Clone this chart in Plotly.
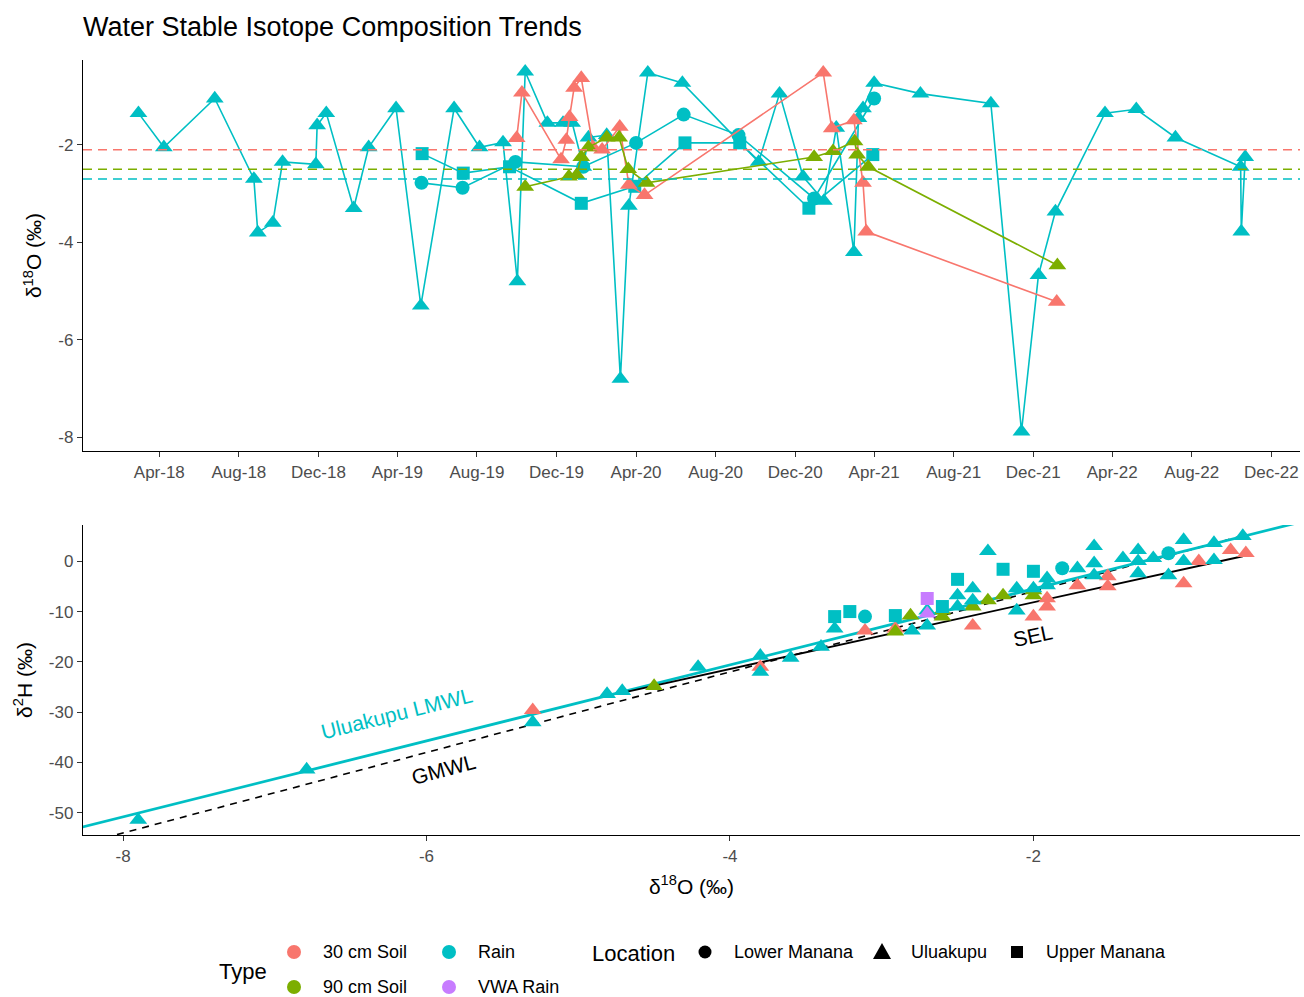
import plotly.graph_objects as go

# ---- colours (ggplot default hue palette) ----
type_names = ["30 cm Soil", "90 cm Soil", "Rain", "VWA Rain"]
type_colors = ["#F8766D", "#7CAE00", "#00BFC4", "#C77CFF"]
loc_names = ["Lower Manana", "Uluakupu", "Upper Manana"]
loc_symbols = ["circle", "triangle-up", "square"]

# ---- time series of d18O ----
rain_ulu_dates = [
    "2018-02-28", "2018-04-08", "2018-06-25", "2018-08-24", "2018-08-30", "2018-09-22",
    "2018-10-07", "2018-11-27", "2018-11-29", "2018-12-13", "2019-01-24", "2019-02-16",
    "2019-03-30", "2019-05-07", "2019-06-27", "2019-08-05", "2019-09-10", "2019-10-02",
    "2019-10-14", "2019-11-17", "2019-12-11", "2019-12-25", "2020-01-11", "2020-01-19",
    "2020-02-16", "2020-03-08", "2020-03-21", "2020-04-19", "2020-06-11", "2020-10-06",
    "2020-11-07", "2020-12-13", "2021-01-14", "2021-02-02", "2021-03-01", "2021-03-08",
    "2021-03-15", "2021-04-01", "2021-06-11", "2021-09-27", "2021-11-13", "2021-12-09",
    "2022-01-04", "2022-03-21", "2022-05-08", "2022-07-07", "2022-10-15", "2022-10-16",
    "2022-10-22",
]
rain_ulu_d18o = [
    -1.35, -2.05, -1.05, -2.70, -3.80, -3.60,
    -2.35, -2.40, -1.60, -1.35, -3.30, -2.05,
    -1.25, -5.30, -1.25, -2.05, -1.95, -4.80,
    -0.50, -1.55, -1.55, -1.55, -2.45, -1.85,
    -1.80, -6.80, -3.25, -0.52, -0.73, -2.35,
    -0.95, -2.65, -3.15, -1.65, -4.20, -1.45,
    -1.25, -0.73, -0.95, -1.15, -7.88, -4.67,
    -3.37, -1.35, -1.27, -1.85, -2.45, -3.78,
    -2.25,
]

rain_lower_dates = ["2019-05-08", "2019-07-10", "2019-09-29", "2020-01-11", "2020-04-01",
                    "2020-06-13", "2020-09-05", "2020-12-30", "2021-04-01"]
rain_lower_d18o = [-2.78, -2.88, -2.35, -2.45, -1.96, -1.38, -1.80, -3.10, -1.05]

rain_upper_dates = ["2019-05-09", "2019-07-11", "2019-09-20", "2020-01-08", "2020-03-30",
                    "2020-06-15", "2020-09-07", "2020-12-22", "2021-03-30"]
rain_upper_d18o = [-2.18, -2.58, -2.45, -3.20, -2.85, -1.96, -1.96, -3.30, -2.20]

soil30_dates = [
    "2019-10-01", "2019-10-09", "2019-12-08", "2019-12-16", "2019-12-21", "2019-12-28",
    "2020-01-08", "2020-01-26", "2020-02-09", "2020-03-07", "2020-03-21", "2020-04-14",
    "2021-01-13", "2021-01-26", "2021-03-01", "2021-03-15", "2021-03-20", "2022-01-06",
]
soil30_d18o = [
    -1.86, -0.93, -2.30, -1.90, -1.43, -0.83,
    -0.63, -2.05, -2.10, -1.63, -2.82, -3.03,
    -0.52, -1.66, -1.50, -2.78, -3.78, -5.22,
]

soil90_dates = [
    "2019-10-14", "2019-12-20", "2020-01-01", "2020-01-08", "2020-01-19", "2020-02-16",
    "2020-03-06", "2020-03-20", "2020-04-17", "2020-12-30", "2021-01-28", "2021-03-02",
    "2021-03-06", "2021-03-23", "2022-01-07",
]
soil90_d18o = [
    -2.86, -2.65, -2.62, -2.25, -2.05, -1.85,
    -1.85, -2.50, -2.78, -2.25, -2.13, -1.93,
    -2.20, -2.45, -4.47,
]

# mean d18O per type (dashed reference lines)
mean_types = ["30 cm Soil", "90 cm Soil", "Rain"]
mean_d18o = [-2.10, -2.50, -2.70]

# ---- dual-isotope plot ----
b_rain_ulu_18o = [-7.90, -6.79, -5.30, -4.81, -4.71, -4.21, -3.80, -3.80, -3.60, -3.40,
                  -3.31, -2.80, -2.70, -2.70, -2.50, -2.50, -2.40, -2.40, -2.30, -2.11,
                  -2.11, -2.00, -1.91, -1.91, -1.71, -1.60, -1.60, -1.60, -1.41, -1.31,
                  -1.31, -1.31, -1.21, -1.11, -1.01, -1.01, -0.81, -0.81, -0.62]
b_rain_ulu_2h = [-51.4, -41.4, -32.0, -26.4, -25.8, -21.0, -18.8, -22.0, -19.2, -17.0,
                 -13.4, -13.8, -12.8, -9.8, -6.8, -9.0, -5.4, -7.8, 2.0, -5.4,
                 -9.8, -5.4, -3.4, -4.8, -1.4, 3.0, -0.4, -2.8, 0.6, 2.2,
                 0.0, -2.4, 0.6, -2.8, 4.2, 0.0, 3.6, 0.2, 5.0]

b_rain_lower_18o = [-3.11, -1.81, -1.11]
b_rain_lower_2h = [-11.0, -1.4, 1.6]

b_rain_upper_18o = [-3.31, -3.21, -2.91, -2.60, -2.50, -2.20, -2.00]
b_rain_upper_2h = [-11.0, -10.0, -10.8, -9.0, -3.6, -1.6, -2.0]

b_soil30_18o = [-5.30, -3.80, -3.11, -2.91, -2.40, -2.00, -1.91, -1.91, -1.71, -1.51,
                -1.51, -1.01, -0.91, -0.70, -0.60]
b_soil30_2h = [-29.6, -21.0, -13.8, -13.4, -12.8, -11.0, -9.0, -7.4, -4.8, -3.0,
               -5.0, -4.4, 0.0, 2.2, 1.6]

b_soil90_18o = [-4.50, -2.91, -2.81, -2.60, -2.60, -2.40, -2.30, -2.20, -2.00, -2.00]
b_soil90_2h = [-24.8, -14.0, -10.8, -9.8, -11.0, -9.0, -7.8, -6.8, -6.8, -5.8]

b_vwa_upper_18o = [-2.70]
b_vwa_upper_2h = [-7.4]
b_vwa_ulu_18o = [-2.70]
b_vwa_ulu_2h = [-10.4]

# water lines: slope, intercept, x-extent
lmwl = (7.55, 9.6, [-8.4, -0.1])
gmwl = (8.0, 10.0, [-8.04, -0.60])
sel = (6.63, 5.1, [-4.69, -0.62])

# tick values and their printed labels (ASCII hyphen minus)
top_yticks = [-8, -6, -4, -2]
bot_xticks = [-8, -6, -4, -2]
bot_yticks = [-50, -40, -30, -20, -10, 0]

FONT = "Liberation Sans, Arial, sans-serif"
TICK_COL = "#4D4D4D"
W, H = 1304, 997
ML, MR, MT, MB = 83, 4, 60, 0


def px(x):
    return (x - ML) / (W - ML - MR)


def py(y):
    return (H - y) / (H - MT - MB)


def labels(vals):
    return [str(v) for v in vals]


fig = go.Figure()

# ---- top panel: time series ----
top_series = [
    (rain_ulu_dates, rain_ulu_d18o, type_colors[2], "triangle-up"),
    (rain_lower_dates, rain_lower_d18o, type_colors[2], "circle"),
    (rain_upper_dates, rain_upper_d18o, type_colors[2], "square"),
    (soil30_dates, soil30_d18o, type_colors[0], "triangle-up"),
    (soil90_dates, soil90_d18o, type_colors[1], "triangle-up"),
]
msize = {"triangle-up": 15.5, "circle": 14, "square": 13}
for xs, ys, col, sym in top_series:
    fig.add_trace(go.Scatter(
        x=xs, y=ys, mode="lines+markers", xaxis="x", yaxis="y",
        line=dict(color=col, width=1.6),
        marker=dict(color=col, symbol=sym, size=msize[sym], line=dict(width=0)),
        showlegend=False, hoverinfo="skip"))

for t, m in zip(mean_types, mean_d18o):
    fig.add_shape(type="line", xref="x domain", yref="y", x0=0, x1=1, y0=m, y1=m,
                  line=dict(color=type_colors[type_names.index(t)], width=1.5, dash="9px,6px"))

# ---- bottom panel: d2H vs d18O ----
for (slope, icpt, xr), col, dash, wdt in [
    (gmwl, "black", "7px,6px", 1.6),
    (lmwl, type_colors[2], "solid", 2.8),
    (sel, "black", "solid", 1.8),
]:
    fig.add_trace(go.Scatter(
        x=xr, y=[slope * v + icpt for v in xr], mode="lines", xaxis="x2", yaxis="y2",
        line=dict(color=col, width=wdt, dash=dash), showlegend=False, hoverinfo="skip"))

bottom_series = [
    (b_soil30_18o, b_soil30_2h, type_colors[0], "triangle-up"),
    (b_soil90_18o, b_soil90_2h, type_colors[1], "triangle-up"),
    (b_rain_lower_18o, b_rain_lower_2h, type_colors[2], "circle"),
    (b_rain_ulu_18o, b_rain_ulu_2h, type_colors[2], "triangle-up"),
    (b_rain_upper_18o, b_rain_upper_2h, type_colors[2], "square"),
    (b_vwa_ulu_18o, b_vwa_ulu_2h, type_colors[3], "triangle-up"),
    (b_vwa_upper_18o, b_vwa_upper_2h, type_colors[3], "square"),
]
for xs, ys, col, sym in bottom_series:
    fig.add_trace(go.Scatter(
        x=xs, y=ys, mode="markers", xaxis="x2", yaxis="y2",
        marker=dict(color=col, symbol=sym, size=msize[sym], line=dict(width=0)),
        showlegend=False, hoverinfo="skip"))

# line labels
line_labels = [
    ("Uluakupu LMWL", -6.20, -30.2, type_colors[2], -14),
    ("GMWL", -5.89, -41.4, "black", -15),
    ("SEL", -2.0, -14.8, "black", -12),
]
for txt, lx, ly, col, ang in line_labels:
    fig.add_annotation(x=lx, y=ly, xref="x2", yref="y2", text=txt, showarrow=False,
                       textangle=ang, font=dict(family=FONT, size=21, color=col))

# ---- legend (drawn in the bottom margin area) ----
key_r = 7
legend_rows = [952, 987]
type_cols = [294, 449]
for i, (name, col) in enumerate(zip(type_names, type_colors)):
    cx = type_cols[[0, 0, 1, 1][i]]
    cy = legend_rows[[0, 1, 0, 1][i]]
    fig.add_shape(type="circle", xref="paper", yref="paper",
                  x0=px(cx - key_r), x1=px(cx + key_r), y0=py(cy + key_r), y1=py(cy - key_r),
                  fillcolor=col, line=dict(width=0))
    fig.add_annotation(xref="paper", yref="paper", x=px(cx + 27), y=py(cy), text=name,
                       xanchor="left", yanchor="middle", showarrow=False,
                       font=dict(family=FONT, size=18, color="black"))
fig.add_annotation(xref="paper", yref="paper", x=px(217), y=py(971), text="Type",
                   xanchor="left", yanchor="middle", showarrow=False,
                   font=dict(family=FONT, size=22, color="black"))
fig.add_annotation(xref="paper", yref="paper", x=px(590), y=py(953), text="Location",
                   xanchor="left", yanchor="middle", showarrow=False,
                   font=dict(family=FONT, size=22, color="black"))
loc_x = [705, 882, 1017]
cy = 952
for name, sym, cx in zip(loc_names, loc_symbols, loc_x):
    if sym == "circle":
        fig.add_shape(type="circle", xref="paper", yref="paper",
                      x0=px(cx - 6.5), x1=px(cx + 6.5), y0=py(cy + 6.5), y1=py(cy - 6.5),
                      fillcolor="black", line=dict(width=0))
    elif sym == "square":
        fig.add_shape(type="rect", xref="paper", yref="paper",
                      x0=px(cx - 6), x1=px(cx + 6), y0=py(cy + 6), y1=py(cy - 6),
                      fillcolor="black", line=dict(width=0))
    else:
        path = (f"M {px(cx - 9)},{py(cy + 7)} L {px(cx + 9)},{py(cy + 7)} "
                f"L {px(cx)},{py(cy - 9)} Z")
        fig.add_shape(type="path", xref="paper", yref="paper", path=path,
                      fillcolor="black", line=dict(width=0))
    fig.add_annotation(xref="paper", yref="paper", x=px(cx + 27), y=py(cy), text=name,
                       xanchor="left", yanchor="middle", showarrow=False,
                       font=dict(family=FONT, size=18, color="black"))

axis_common = dict(showgrid=False, zeroline=False, showline=True, linecolor="black",
                   linewidth=1.3, ticks="outside", ticklen=5, tickcolor="#333333",
                   tickwidth=1.2, tickfont=dict(family=FONT, size=17, color=TICK_COL))

fig.update_layout(
    width=W, height=H,
    margin=dict(l=ML, r=MR, t=MT, b=MB),
    paper_bgcolor="white", plot_bgcolor="white",
    title=dict(text="Water Stable Isotope Composition Trends", x=83 / W,
               xanchor="left", y=1 - 27 / H, yanchor="middle",
               font=dict(family=FONT, size=27, color="black")),
    xaxis=dict(domain=[0, 1], anchor="y", type="date",
               range=["2017-12-05", "2023-01-14"], tick0="2018-04-01", dtick="M4",
               tickformat="%b-%y", **axis_common),
    yaxis=dict(domain=[py(451), 1.0], anchor="x", range=[-8.28, -0.26],
               tickvals=top_yticks, ticktext=labels(top_yticks),
               title=dict(text="δ<sup>18</sup>O (‰)", standoff=10,
                          font=dict(family=FONT, size=21, color="black")),
               **axis_common),
    xaxis2=dict(domain=[0, 1], anchor="y2", range=[-8.264, -0.243],
                tickvals=bot_xticks, ticktext=labels(bot_xticks),
                title=dict(text="δ<sup>18</sup>O (‰)", standoff=14,
                           font=dict(family=FONT, size=21, color="black")),
                **axis_common),
    yaxis2=dict(domain=[py(835), py(525)], anchor="x2", range=[-54.4, 7.2],
                tickvals=bot_yticks, ticktext=labels(bot_yticks),
                title=dict(text="δ<sup>2</sup>H (‰)", standoff=10,
                           font=dict(family=FONT, size=21, color="black")),
                **axis_common),
)

fig.write_html("out.html")
